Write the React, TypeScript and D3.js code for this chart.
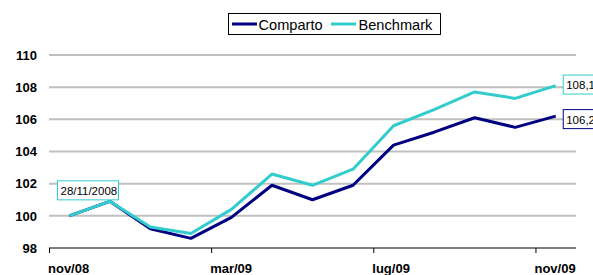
import { useEffect, useRef } from "react";
import * as d3 from "d3";

// monthly values, end of nov/08 .. end of nov/09
const months = [
  "nov/08", "dic/08", "gen/09", "feb/09", "mar/09", "apr/09", "mag/09",
  "giu/09", "lug/09", "ago/09", "set/09", "ott/09", "nov/09",
];
const comparto = [100, 100.9, 99.2, 98.6, 99.9, 101.9, 101.0, 101.9, 104.4, 105.2, 106.1, 105.5, 106.2];
const benchmark = [100, 100.9, 99.3, 98.9, 100.4, 102.6, 101.9, 102.9, 105.6, 106.6, 107.7, 107.3, 108.1];
const yTicks = [98, 100, 102, 104, 106, 108, 110];
const xLabelIdx = [0, 4, 8, 12];
const startLabel = "28/11/2008";

const NAVY = "#000080";
const CYAN = "#33CCCC";
const FONT = "'Liberation Sans', Arial, sans-serif";

export default function App() {
  const svgRef = useRef<SVGSVGElement>(null);

  useEffect(() => {
    const svg = d3.select(svgRef.current);
    svg.selectAll("*").remove();

    const W = 593, H = 275;
    const left = 49, right = 576, top = 55, bottom = 248;

    const x = d3.scaleBand<string>().domain(months).range([left, right]);
    const y = d3.scaleLinear().domain([98, 110]).range([bottom, top]);
    const cx = (i: number) => (x(months[i]) as number) + x.bandwidth() / 2;

    svg.attr("width", W).attr("height", H).style("font-family", FONT);

    // grid
    svg.append("g")
      .selectAll("line")
      .data(yTicks.filter(t => t !== 98))
      .enter()
      .append("line")
      .attr("x1", left)
      .attr("x2", right)
      .attr("y1", d => y(d))
      .attr("y2", d => y(d))
      .attr("stroke", "#c0c0c0")
      .attr("stroke-width", 2);

    // y labels
    svg.append("g")
      .selectAll("text")
      .data(yTicks)
      .enter()
      .append("text")
      .attr("x", 37)
      .attr("y", d => y(d))
      .attr("dy", "0.36em")
      .attr("text-anchor", "end")
      .attr("font-size", 13)
      .attr("font-weight", "bold")
      .text(d => d);

    // x axis
    svg.append("line")
      .attr("x1", left).attr("x2", right)
      .attr("y1", bottom).attr("y2", bottom)
      .attr("stroke", "#000").attr("stroke-width", 1);

    const xt = svg.append("g")
      .selectAll("g")
      .data(xLabelIdx)
      .enter()
      .append("g");
    xt.append("line")
      .attr("x1", i => (x(months[i]) as number) + 0.5)
      .attr("x2", i => (x(months[i]) as number) + 0.5)
      .attr("y1", bottom)
      .attr("y2", bottom + 5)
      .attr("stroke", "#000");
    xt.append("text")
      .attr("x", i => (x(months[i]) as number) - 1)
      .attr("y", 273)
      .attr("font-size", 13)
      .attr("font-weight", "bold")
      .text(i => months[i]);

    // lines
    const line = d3.line<number>()
      .x((_, i) => cx(i))
      .y(d => y(d));

    svg.append("path")
      .datum(comparto)
      .attr("fill", "none")
      .attr("stroke", NAVY)
      .attr("stroke-width", 3)
      .attr("stroke-linejoin", "round")
      .attr("d", line);

    svg.append("path")
      .datum(benchmark)
      .attr("fill", "none")
      .attr("stroke", CYAN)
      .attr("stroke-width", 3)
      .attr("stroke-linejoin", "round")
      .attr("d", line);

    // value boxes (cut by the right edge, as in the original)
    const box = (bx: number, by: number, w: number, txt: string, color: string) => {
      svg.append("rect")
        .attr("x", bx + 0.5).attr("y", by + 0.5)
        .attr("width", w).attr("height", 19)
        .attr("fill", "#fff")
        .attr("stroke", color)
        .attr("stroke-width", 1);
      svg.append("text")
        .attr("x", bx + 3.5)
        .attr("y", by + 14.5)
        .attr("font-size", 11.5)
        .attr("fill", "#000")
        .text(txt);
    };
    const last = months.length - 1;
    box(cx(last) + 7, y(benchmark[last]) - 11, 40, String(benchmark[last]).replace(".", ","), CYAN);
    box(cx(last) + 7, y(comparto[last]) - 7, 40, String(comparto[last]).replace(".", ","), NAVY);
    box(57, y(benchmark[1]) - 21, 61, startLabel, CYAN);

    // legend
    const lg = svg.append("g");
    lg.append("rect")
      .attr("x", 228.5).attr("y", 13.5)
      .attr("width", 212).attr("height", 21)
      .attr("fill", "#fff")
      .attr("stroke", "#000");
    const items = [
      { name: "Comparto", color: NAVY, x0: 232, tx: 258.5 },
      { name: "Benchmark", color: CYAN, x0: 331, tx: 358.5 },
    ];
    items.forEach(it => {
      lg.append("line")
        .attr("x1", it.x0).attr("x2", it.x0 + 25)
        .attr("y1", 24).attr("y2", 24)
        .attr("stroke", it.color).attr("stroke-width", 3);
      lg.append("text")
        .attr("x", it.tx).attr("y", 30)
        .attr("font-size", 14.6)
        .text(it.name);
    });
  }, []);

  return (
    <div style={{ position: "absolute", left: 0, top: 0, background: "#fff" }}>
      <svg ref={svgRef} />
    </div>
  );
}
